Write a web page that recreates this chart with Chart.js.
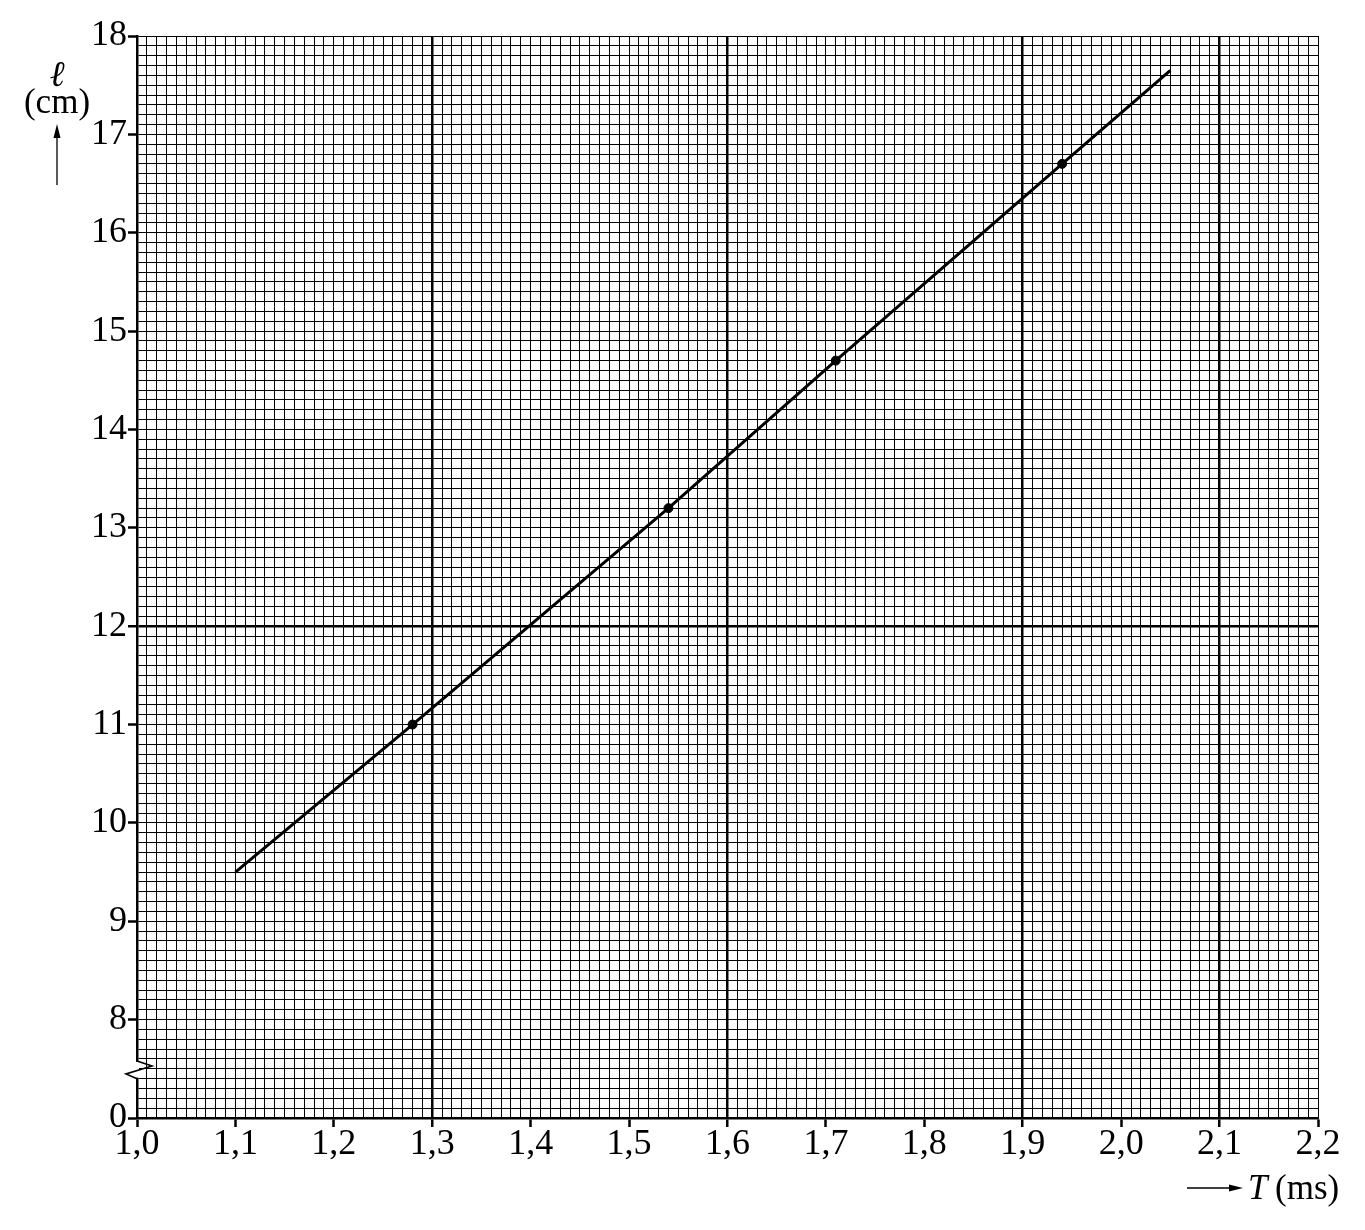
<!DOCTYPE html>
<html lang="en">
<head>
  <meta charset="UTF-8">
  <title>l versus T</title>
  <style>
  body {
    margin: 0;
    background: #fff;
  }
  #chart {
    display: block;
  }
  </style>
  <script src="https://cdn.jsdelivr.net/npm/chart.js"></script>
</head>
<body>
  <canvas id="chart" width="1365" height="1230"></canvas>

  <script>
    // measured points (T in ms, l in cm)
    const measT = [1.28, 1.54, 1.71, 1.94];
    const measL = [11.0, 13.2, 14.7, 16.7];

    // hand drawn line through the points, with its two loose ends
    const fitT = [1.10, 1.28, 1.54, 1.71, 1.94, 2.05];
    const fitL = [9.5, 11.0, 13.2, 14.7, 16.7, 17.65];

    // axis labels (the lowest y label sits at 7 but reads 0 because of the axis break)
    const xTickLabels = ['1,0', '1,1', '1,2', '1,3', '1,4', '1,5', '1,6', '1,7', '1,8', '1,9', '2,0', '2,1', '2,2'];
    const yTickLabels = ['0', '8', '9', '10', '11', '12', '13', '14', '15', '16', '17', '18'];

    // heavier lines of the graph paper
    const xHeavy = [1.3, 1.6, 1.9, 2.1];
    const yHeavy = [12];

    const xMin = 1.0, xMax = 2.2;
    const yMin = 7, yMax = 18;

    const serif = '"Liberation Serif", "Times New Roman", serif';
    const tickFont = { family: serif, size: 36 };

    // fine grid: every 0.01 ms and every 0.1 cm
    function gridValues(min, max, step) {
      const n = Math.round((max - min) / step);
      const out = [];
      for (let i = 0; i <= n; i++) out.push({ value: Math.round((min + i * step) * 1000) / 1000 });
      return out;
    }

    function isHeavy(list, v) {
      return list.some(h => Math.abs(h - v) < 1e-6);
    }

    // axis break on the left axis plus the two axis titles
    const decorations = {
      id: 'decorations',
      afterDraw(chart) {
        const ctx = chart.ctx;
        const y = chart.scales.y;
        const left = chart.chartArea.left;
        const yTop = y.getPixelForValue(7.57);
        const yBot = y.getPixelForValue(7.41);

        ctx.save();
        ctx.fillStyle = '#fff';
        ctx.fillRect(left - 3, yTop, 5, yBot - yTop);
        ctx.strokeStyle = '#000';
        ctx.lineWidth = 1.6;
        ctx.beginPath();
        ctx.moveTo(left, yTop - 1);
        ctx.lineTo(left + 15, yTop + 4);
        ctx.lineTo(left - 11, yTop + 12);
        ctx.lineTo(left, yBot + 1);
        ctx.stroke();

        // y title
        ctx.fillStyle = '#000';
        ctx.textAlign = 'center';
        ctx.textBaseline = 'alphabetic';
        ctx.font = 'italic 36px ' + serif;
        ctx.fillText('\u2113', 57, 86);
        ctx.font = '35px ' + serif;
        ctx.fillText('(cm)', 57, 113);
        ctx.lineWidth = 1.3;
        ctx.beginPath();
        ctx.moveTo(57, 185);
        ctx.lineTo(57, 132);
        ctx.stroke();
        ctx.beginPath();
        ctx.moveTo(57, 124);
        ctx.lineTo(53.5, 138);
        ctx.lineTo(60.5, 138);
        ctx.closePath();
        ctx.fill();

        // x title
        ctx.beginPath();
        ctx.moveTo(1187, 1188);
        ctx.lineTo(1232, 1188);
        ctx.stroke();
        ctx.beginPath();
        ctx.moveTo(1243, 1188);
        ctx.lineTo(1229, 1184.5);
        ctx.lineTo(1229, 1191.5);
        ctx.closePath();
        ctx.fill();
        ctx.textAlign = 'left';
        ctx.font = 'italic 35px ' + serif;
        ctx.fillText('T', 1248, 1199);
        ctx.font = '35px ' + serif;
        ctx.fillText('(ms)', 1275, 1199);
        ctx.restore();
      }
    };

    new Chart(document.getElementById('chart'), {
      type: 'scatter',
      data: {
        datasets: [
          {
            label: 'fit',
            data: fitT.map((t, i) => ({ x: t, y: fitL[i] })),
            showLine: true,
            borderColor: '#000',
            borderWidth: 3,
            pointRadius: 0,
            order: 2
          },
          {
            label: 'measured',
            data: measT.map((t, i) => ({ x: t, y: measL[i] })),
            showLine: false,
            backgroundColor: '#000',
            borderColor: '#000',
            pointRadius: 4.5,
            order: 1
          }
        ]
      },
      options: {
        responsive: false,
        animation: false,
        layout: { padding: { top: 36, right: 47, left: 0, bottom: 0 } },
        plugins: {
          legend: { display: false },
          tooltip: { enabled: false }
        },
        scales: {
          x: {
            type: 'linear',
            min: xMin,
            max: xMax,
            afterBuildTicks: scale => { scale.ticks = gridValues(xMin, xMax, 0.01); },
            afterFit: scale => { scale.height = 112; },
            border: { display: true, width: 2.5, color: '#000' },
            grid: {
              color: '#000',
              lineWidth: c => isHeavy(xHeavy, c.tick.value) ? 2.5 : 1,
              tickLength: 9,
              tickWidth: 2.5,
              tickColor: c => c.index % 10 === 0 ? '#000' : 'rgba(0,0,0,0)'
            },
            ticks: {
              autoSkip: false,
              maxRotation: 0,
              padding: -4,
              color: '#000',
              font: tickFont,
              callback: (v, i) => i % 10 === 0 ? xTickLabels[i / 10] : ''
            }
          },
          y: {
            type: 'linear',
            min: yMin,
            max: yMax,
            afterBuildTicks: scale => { scale.ticks = gridValues(yMin, yMax, 0.1); },
            afterFit: scale => { scale.width = 137; },
            border: { display: true, width: 2.5, color: '#000' },
            grid: {
              color: '#000',
              lineWidth: c => isHeavy(yHeavy, c.tick.value) ? 2.5 : 1,
              tickLength: 9,
              tickWidth: 2.5,
              tickColor: c => c.index % 10 === 0 ? '#000' : 'rgba(0,0,0,0)'
            },
            ticks: {
              autoSkip: false,
              padding: 1,
              color: '#000',
              font: tickFont,
              callback: (v, i) => i % 10 === 0 ? yTickLabels[i / 10] : ''
            }
          }
        }
      },
      plugins: [decorations]
    });
  </script>
</body>
</html>
